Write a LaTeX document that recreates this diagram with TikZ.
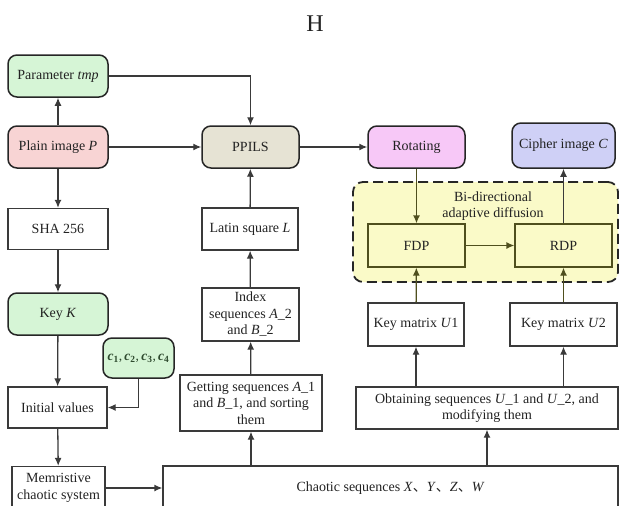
\documentclass[tikz,border=0pt]{standalone}
\usepackage{fontspec}
\setmainfont{Liberation Serif}
\newfontfamily\cjk{Noto Sans CJK SC}
\usetikzlibrary{arrows.meta}

\definecolor{linec}{HTML}{3A3A3A}
\definecolor{txt}{HTML}{222222}
\definecolor{greenf}{HTML}{D6F5D6}
\definecolor{pinkf}{HTML}{F8D4D4}
\definecolor{beigef}{HTML}{E6E3D4}
\definecolor{magf}{HTML}{F7C8F7}
\definecolor{lavf}{HTML}{CFD0F6}
\definecolor{yelf}{HTML}{FAFAC8}
\definecolor{olive}{HTML}{4F4F1E}
\definecolor{cgreen}{HTML}{2E4A2E}

\newcommand{\dnote}{{\cjk 、}}
\newcommand{\cv}[1]{\textbf{\textit{c}}\textsubscript{\textbf{#1}}}

\begin{document}
\begin{tikzpicture}[x=1pt,y=-1pt,
  base/.style={draw=linec, line width=1.3pt, text=txt, align=center,
    font=\fontsize{14}{16.5}\selectfont, inner sep=2pt},
  rbox/.style={base, draw=black!85, rounded corners=9pt, line width=1.5pt},
  sbox/.style={base},
  ybox/.style={base, draw=olive, fill=yelf},
  arr/.style={-{Latex[length=8pt,width=7pt]}, line width=1.3pt, draw=linec},
  oarr/.style={arr, draw=olive}]

\useasboundingbox (0,0) rectangle (619,506);
\clip (0,0) rectangle (619,506);

% title
\node[text=txt, font=\fontsize{24}{28}\selectfont] (title) at (315,24) {H};

% top row
\node[rbox, fill=greenf, minimum width=100, minimum height=42] (param) at (58,76) {Parameter \textit{tmp}};
\node[rbox, fill=pinkf, minimum width=100, minimum height=42] (plain) at (58,147) {Plain image \textit{P}};
\node[rbox, fill=beigef, minimum width=97, minimum height=42] (ppils) at (250.5,147) {PPILS};
\node[rbox, fill=magf, minimum width=97, minimum height=42] (rot) at (416.5,147) {Rotating};
\node[rbox, fill=lavf, minimum width=103, minimum height=45] (cipher) at (563.5,145.5) {Cipher image \textit{C}};

% left column
\node[sbox, minimum width=100, minimum height=41] (sha) at (58,229) {SHA 256};
\node[rbox, fill=greenf, minimum width=100, minimum height=42] (keyk) at (58,314) {Key \textit{K}};
\node[rbox, fill=greenf, minimum width=71, minimum height=40, inner sep=1pt, text=cgreen,
  font=\fontsize{13.5}{16}\selectfont] (cvals) at (138.5,358)
  {\cv{1},\,\cv{2},\,\cv{3},\,\cv{4}};
\node[sbox, minimum width=99, minimum height=41] (init) at (57.5,407.5) {Initial values};
\node[sbox, minimum width=93, minimum height=43] (mem) at (58.5,488) {Memristive\\chaotic system};

% middle column
\node[sbox, minimum width=96, minimum height=42] (latin) at (250,229) {Latin square \textit{L}};
\node[sbox, minimum width=97, minimum height=53] (index) at (250.5,314.5) {Index\\sequences \textit{A}\_2\\and \textit{B}\_2};
\node[sbox, minimum width=142, minimum height=56] (getting) at (251,403) {Getting sequences \textit{A}\_1\\and \textit{B}\_1, and sorting\\them};
\node[sbox, minimum width=455, minimum height=44] (chaotic) at (390.5,488)
  {Chaotic sequences \textit{X}\dnote\textit{Y}\dnote\textit{Z}\dnote\textit{W}};

% diffusion block
\node[draw=black!85, line width=1.8pt, dash pattern=on 10pt off 5pt, fill=yelf,
  rounded corners=10pt, minimum width=265, minimum height=100] (bad) at (485.5,232) {};
\node[text=txt, align=center, font=\fontsize{14}{16.5}\selectfont] (badlab) at (493,206)
  {Bi-directional\\adaptive diffusion};
\node[ybox, minimum width=97, minimum height=43] (fdp) at (416.5,245.5) {FDP};
\node[ybox, minimum width=97, minimum height=43] (rdp) at (563.5,245.5) {RDP};

% right columns
\node[sbox, minimum width=96, minimum height=43] (u1) at (416,324.5) {Key matrix \textit{U}1};
\node[sbox, minimum width=107, minimum height=43] (u2) at (563.5,324.5) {Key matrix \textit{U}2};
\node[sbox, minimum width=262, minimum height=42] (obtain) at (487,408)
  {Obtaining sequences \textit{U}\_1 and \textit{U}\_2, and\\modifying them};

% connectors
\draw[arr] (plain) -- (param);
\draw[arr] (param.east) -| (ppils.north);
\draw[arr] (plain) -- (ppils);
\draw[arr] (ppils) -- (rot);
\draw[oarr] (rot) -- (fdp);
\draw[oarr] (fdp) -- (rdp);
\draw[arr] (rdp) -- (cipher.south -| rdp.north);

\draw[arr] (plain) -- (sha);
\draw[arr] (sha) -- (keyk);
\draw[arr] (keyk) -- (init);
\draw[arr] (cvals.south) |- (init.east);
\draw[arr] (init) -- (mem);
\draw[arr] (mem) -- (chaotic.west |- mem.east);

\draw[arr] (getting.south |- chaotic.north) -- (getting.south);
\draw[arr] (getting) -- (index);
\draw[arr] (index) -- (latin);
\draw[arr] (latin) -- (ppils);

\draw[arr] (obtain.south |- chaotic.north) -- (obtain.south);
\draw[arr] (obtain.north -| u1.south) -- (u1.south);
\draw[arr] (obtain.north -| u2.south) -- (u2.south);
\draw[oarr] (u1) -- (fdp);
\draw[oarr] (u2) -- (rdp);
\end{tikzpicture}
\end{document}
